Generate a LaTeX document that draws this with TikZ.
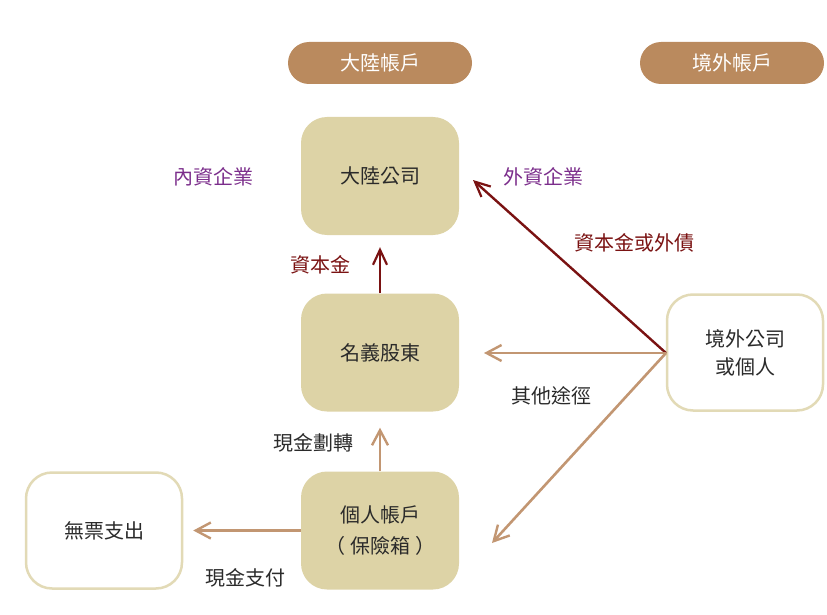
\documentclass[tikz,border=0pt]{standalone}
\usepackage{fontspec}
\setmainfont{Noto Sans CJK TC}
\usetikzlibrary{arrows.meta}
\definecolor{pillc}{HTML}{BA8A5E}
\definecolor{boxc}{HTML}{DDD3A6}
\definecolor{edgec}{HTML}{E2DAB6}
\definecolor{tanc}{HTML}{C29672}
\definecolor{redc}{HTML}{7A1212}
\definecolor{purc}{HTML}{7B2D8B}
\definecolor{txtc}{HTML}{2A2A2A}
\tikzset{
  pill/.style={fill=pillc, text=white, rounded corners=21pt, minimum width=184pt, minimum height=42pt, inner sep=0pt, font=\fontsize{20}{22}\selectfont},
  solidbox/.style={fill=boxc, text=txtc, rounded corners=26pt, minimum width=158pt, minimum height=118pt, inner sep=0pt, align=center, font=\fontsize{20}{31}\selectfont},
  openbox/.style={draw=edgec, line width=2.5pt, fill=white, text=txtc, rounded corners=26pt, minimum width=156pt, minimum height=116pt, inner sep=0pt, align=center, font=\fontsize{20}{28}\selectfont},
  lbl/.style={text=txtc, inner sep=0pt, font=\fontsize{20}{22}\selectfont},
  tanarrow/.style={draw=tanc, line width=2.6pt, -{Straight Barb[length=15pt,width=16pt,line width=2.4pt]}},
  redarrow/.style={draw=redc, line width=2.4pt, -{Straight Barb[length=15pt,width=14pt,line width=2.2pt]}},
}
\begin{document}
\begin{tikzpicture}[x=1pt,y=-1pt]
\useasboundingbox (0,0) rectangle (827,615);
% headers
\node[pill] (hcn) at (380,63) {大陸帳戶};
\node[pill] (hov) at (732,63) {境外帳戶};
% boxes
\node[solidbox] (dl) at (380,176) {大陸公司};
\node[solidbox] (mg) at (380,352.5) {名義股東};
\node[solidbox] (gr) at (380,530.5) {個人帳戶\\（\hspace{5pt}保險箱\hspace{5pt}）};
\node[openbox] (wp) at (104,530.5) {無票支出};
\node[openbox] (jw) at (745,352.5) {境外公司\\或個人};
% free ends
\coordinate (jwp) at (666,353);
\coordinate (t1) at (473,180);
\coordinate (t2) at (484,353);
\coordinate (t3) at (492,543);
% connectors
\draw[redarrow] (mg.north) -- ([yshift=-12pt]dl.south);
\draw[tanarrow] (gr.north) -- ([yshift=-16pt]mg.south);
\draw[tanarrow] (gr.west) -- ([xshift=10pt]wp.east);
\draw[redarrow] (jwp) -- (t1);
\draw[tanarrow] (jwp) -- (t2);
\draw[tanarrow] (jwp) -- (t3);
% labels
\node[lbl, text=purc] (nz) at (213,177) {內資企業};
\node[lbl, text=purc] (wz) at (543,177) {外資企業};
\node[lbl, text=redc] (zbwz) at (634,243) {資本金或外債};
\node[lbl, text=redc] (zb) at (320,265) {資本金};
\node[lbl] (qt) at (551,396) {其他途徑};
\node[lbl] (hjhz) at (313,443) {現金劃轉};
\node[lbl] (hjzf) at (245,578) {現金支付};
\end{tikzpicture}
\end{document}
